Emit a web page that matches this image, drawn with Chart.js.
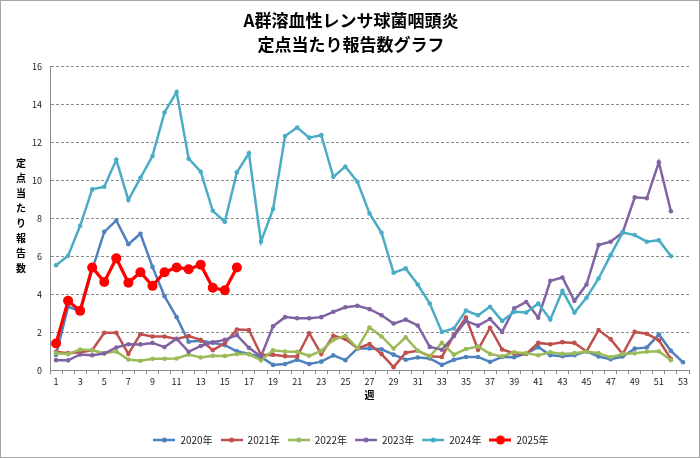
<!DOCTYPE html>
<html lang="ja">
<head>
  <meta charset="UTF-8" />
  <title>A群溶血性レンサ球菌咽頭炎 定点当たり報告数グラフ</title>
  <script src="https://cdn.jsdelivr.net/npm/chart.js"></script>
  <style>
    body { margin: 0; background: #fff; }
    /* 外枠 */
    .frame {
      width: 700px;
      height: 458px;
      box-sizing: border-box;
      border: 1px solid #a6a6a6;
      background: #fff;
    }
    canvas { display: block; }
  </style>
</head>
<body>
  <div class="frame">
    <canvas id="chart" width="698" height="456"></canvas>
  </div>

  <script>
    // データ（週別の定点当たり報告数）
    const weeks = Array.from({ length: 53 }, (_, i) => String(i + 1));
    const yTicks = [0, 2, 4, 6, 8, 10, 12, 14, 16];
    const yearLabels = ['2020年', '2021年', '2022年', '2023年', '2024年', '2025年'];

    const y2020 = [0.8, 3.35, 3.1, 5.3, 7.3, 7.9, 6.65, 7.2, 5.45, 3.9, 2.8, 1.5, 1.55, 1.45, 1.32, 1.0, 0.85, 0.7, 0.28, 0.33,
      0.55, 0.33, 0.45, 0.78, 0.53, 1.15, 1.15, 1.1, 0.82, 0.55, 0.67, 0.62, 0.28, 0.55, 0.7, 0.7, 0.44, 0.7, 0.68, 0.88,
      1.22, 0.79, 0.74, 0.79, 1.0, 0.72, 0.58, 0.72, 1.14, 1.2, 1.88, 1.02, 0.42];
    const y2021 = [0.97, 0.9, 0.95, 1.05, 1.97, 1.97, 0.86, 1.9, 1.78, 1.78, 1.65, 1.8, 1.6, 1.06, 1.42, 2.15, 2.12, 0.8, 0.82, 0.74,
      0.72, 1.95, 0.85, 1.82, 1.65, 1.15, 1.38, 0.85, 0.16, 0.92, 1.03, 0.74, 0.7, 1.85, 2.78, 1.08, 2.24, 1.09, 0.88, 0.86,
      1.44, 1.37, 1.48, 1.44, 0.99, 2.12, 1.64, 0.85, 2.02, 1.92, 1.58, 0.6];
    const y2022 = [0.9, 0.85, 1.09, 1.05, 0.9, 0.98, 0.56, 0.5, 0.6, 0.6, 0.62, 0.82, 0.67, 0.76, 0.75, 0.85, 0.85, 0.52, 1.05, 0.98,
      0.97, 0.76, 1.02, 1.6, 1.82, 1.16, 2.25, 1.78, 1.14, 1.74, 1.03, 0.72, 1.44, 0.82, 1.12, 1.25, 0.86, 0.73, 0.95, 0.9,
      0.79, 0.95, 0.86, 0.9, 0.99, 0.9, 0.68, 0.85, 0.89, 0.97, 1.0, 0.53];
    const y2023 = [0.53, 0.52, 0.83, 0.79, 0.88, 1.2, 1.37, 1.36, 1.44, 1.22, 1.66, 0.97, 1.28, 1.47, 1.6, 1.85, 1.18, 0.72, 2.32, 2.8,
      2.74, 2.74, 2.8, 3.08, 3.32, 3.4, 3.22, 2.9, 2.46, 2.67, 2.36, 1.23, 1.08, 1.8, 2.6, 2.35, 2.7, 2.02, 3.26, 3.6,
      2.77, 4.72, 4.89, 3.66, 4.52, 6.6, 6.78, 7.27, 9.12, 9.07, 10.97, 8.39];
    const y2024 = [5.54, 6.04, 7.62, 9.54, 9.68, 11.1, 8.98, 10.15, 11.3, 13.6, 14.68, 11.16, 10.47, 8.41, 7.83, 10.44, 11.44, 6.78, 8.5, 12.36,
      12.8, 12.27, 12.4, 10.2, 10.74, 9.94, 8.27, 7.25, 5.14, 5.37, 4.52, 3.52, 2.02, 2.2, 3.15, 2.9, 3.35, 2.6, 3.08, 3.04,
      3.52, 2.67, 4.19, 3.04, 3.82, 4.84, 6.07, 7.27, 7.13, 6.78, 6.86, 6.02];
    const y2025 = [1.41, 3.66, 3.13, 5.42, 4.66, 5.9, 4.61, 5.17, 4.45, 5.17, 5.42, 5.33, 5.56, 4.35, 4.22, 5.42];

    const titleLines = ['A群溶血性レンサ球菌咽頭炎', '定点当たり報告数グラフ'];
    const yAxisChars = ['定', '点', '当', 'た', 'り', '報', '告', '数'];
    const xAxisTitle = '週';

    // 色（Excel風）
    const colors = ['#4F81BD', '#C0504D', '#9BBB59', '#8064A2', '#4BACC6', '#FF0000'];
    const series = [y2020, y2021, y2022, y2023, y2024, y2025];

    const FONT = '"Noto Sans CJK JP", "Noto Sans", sans-serif';

    // 凡例用の線＋マーカー画像
    function legendIcon(color, big) {
      const c = document.createElement('canvas');
      c.width = 22;
      c.height = 12;
      const g = c.getContext('2d');
      g.strokeStyle = color;
      g.lineWidth = big ? 3 : 2.5;
      g.beginPath();
      g.moveTo(0, 6);
      g.lineTo(22, 6);
      g.stroke();
      g.fillStyle = color;
      g.beginPath();
      g.arc(11, 6, big ? 4.5 : 2.5, 0, Math.PI * 2);
      g.fill();
      return c;
    }

    const datasets = series.map((data, i) => {
      const is2025 = i === 5;
      return {
        label: yearLabels[i],
        data: data,
        borderColor: colors[i],
        backgroundColor: colors[i],
        pointBackgroundColor: colors[i],
        pointBorderColor: colors[i],
        borderWidth: is2025 ? 3.2 : 2.5,
        pointRadius: is2025 ? 5 : 2.3,
        pointBorderWidth: 0,
        tension: 0,
        order: 5 - i,
        icon: legendIcon(colors[i], is2025),
      };
    });

    // 縦書きの軸ラベル
    const yLabelPlugin = {
      id: 'yLabel',
      afterDraw(chart) {
        const { ctx, chartArea } = chart;
        const mid = (chartArea.top + chartArea.bottom) / 2 - 3;
        const step = 15;
        const start = mid - step * (yAxisChars.length - 1) / 2;
        ctx.save();
        ctx.font = 'bold 10px ' + FONT;
        ctx.fillStyle = '#000';
        ctx.textAlign = 'center';
        ctx.textBaseline = 'middle';
        yAxisChars.forEach((ch, i) => ctx.fillText(ch, 20, start + i * step));
        ctx.restore();
      }
    };

    new Chart(document.getElementById('chart'), {
      type: 'line',
      data: { labels: weeks, datasets: datasets },
      options: {
        responsive: false,
        animation: false,
        layout: { padding: { left: 12, right: 10, top: 0, bottom: 2 } },
        scales: {
          x: {
            offset: true,
            grid: {
              offset: true,
              drawOnChartArea: false,
              drawTicks: true,
              tickLength: 4,
              color: '#8c8c8c',
            },
            border: { color: '#8c8c8c', width: 1 },
            ticks: {
              autoSkip: false,
              maxRotation: 0,
              padding: 2,
              color: '#222',
              font: { family: FONT, size: 9 },
              callback: (v, i) => (i % 2 === 0 ? weeks[i] : ''),
            },
            title: {
              display: true,
              text: xAxisTitle,
              color: '#000',
              font: { family: FONT, size: 10, weight: 'bold' },
              padding: { top: 0, bottom: 26 },
            },
          },
          y: {
            min: 0,
            max: 16,
            afterBuildTicks: (axis) => { axis.ticks = yTicks.map(v => ({ value: v })); },
            afterFit: (axis) => { axis.width = 37; },
            grid: {
              drawTicks: false,
              color: (ctx) => (ctx.tick && ctx.tick.value === 0 ? 'rgba(0,0,0,0)' : '#8c8c8c'),
            },
            border: { color: '#8c8c8c', width: 1, dash: [3, 2] },
            ticks: {
              padding: 8,
              color: '#222',
              font: { family: FONT, size: 9 },
            },
          },
        },
        plugins: {
          title: {
            display: true,
            text: titleLines,
            color: '#000',
            font: { family: FONT, size: 17, weight: 'bold', lineHeight: 1.41 },
            padding: { top: 8, bottom: 10 },
          },
          legend: {
            position: 'bottom',
            labels: {
              usePointStyle: true,
              pointStyleWidth: 22,
              boxHeight: 10,
              padding: 8,
              color: '#222',
              font: { family: FONT, size: 10 },
              generateLabels: (chart) => chart.data.datasets.map((ds, i) => ({
                text: ds.label,
                fillStyle: ds.borderColor,
                strokeStyle: ds.borderColor,
                lineWidth: 0,
                pointStyle: ds.icon,
                hidden: false,
                datasetIndex: i,
                fontColor: '#222',
              })),
            },
          },
          tooltip: { enabled: false },
        },
      },
      plugins: [yLabelPlugin],
    });
  </script>
</body>
</html>
